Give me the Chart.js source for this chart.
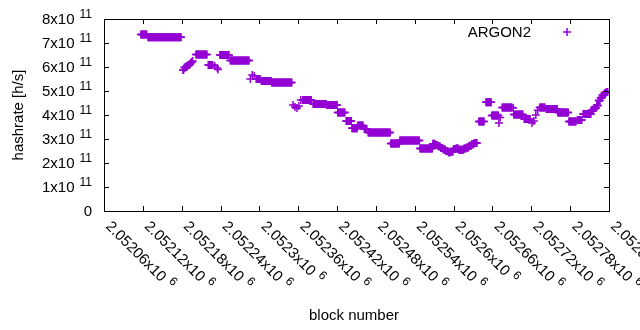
<!DOCTYPE html>
<html>
<head>
<meta charset="utf-8">
<script src="https://cdn.jsdelivr.net/npm/chart.js@4.4.1/dist/chart.umd.min.js"></script>
<style>
  html, body { margin: 0; padding: 0; background: #fff; }
  #wrap { width: 640px; height: 330px; }
</style>
</head>
<body>
<div id="wrap"><canvas id="hashChart"></canvas></div>
<script>
// runs of blocks that share the same hashrate (value in units of 1e11 h/s)
const runStart = [2052117, 2052128, 2052182, 2052184, 2052187, 2052190, 2052193, 2052194, 2052195, 2052197,
  2052202, 2052221, 2052231, 2052235, 2052236, 2052239, 2052255, 2052286, 2052289, 2052292,
  2052295, 2052303, 2052319, 2052352, 2052355, 2052358, 2052361, 2052364, 2052367, 2052383,
  2052404, 2052421, 2052434, 2052443, 2052452, 2052462, 2052468, 2052503, 2052517, 2052548,
  2052568, 2052572, 2052576, 2052580, 2052584, 2052588, 2052592, 2052596, 2052600, 2052604,
  2052608, 2052612, 2052616, 2052620, 2052624, 2052628, 2052632,
  2052639, 2052650, 2052659, 2052670, 2052672,
  2052675, 2052692, 2052693, 2052709, 2052721, 2052724, 2052727, 2052730, 2052733, 2052743,
  2052761, 2052778, 2052791, 2052800, 2052813, 2052817, 2052821, 2052824, 2052827, 2052830,
  2052833, 2052836];
const runEnd = [2052126, 2052179, 2052183, 2052186, 2052189, 2052192, 2052193, 2052194, 2052196, 2052197,
  2052219, 2052228, 2052231, 2052235, 2052236, 2052253, 2052284, 2052286, 2052289, 2052292,
  2052301, 2052318, 2052350, 2052352, 2052355, 2052358, 2052361, 2052364, 2052380, 2052403,
  2052420, 2052432, 2052442, 2052451, 2052460, 2052466, 2052502, 2052516, 2052547, 2052567,
  2052571, 2052575, 2052579, 2052583, 2052587, 2052591, 2052595, 2052599, 2052603, 2052607,
  2052611, 2052615, 2052619, 2052623, 2052627, 2052631, 2052636,
  2052647, 2052658, 2052669, 2052670, 2052672,
  2052690, 2052692, 2052707, 2052718, 2052721, 2052724, 2052727, 2052730, 2052741, 2052760,
  2052777, 2052789, 2052798, 2052812, 2052816, 2052820, 2052823, 2052826, 2052829, 2052832,
  2052835, 2052838];
const runHash = [7.35, 7.24, 5.87, 5.98, 6.03, 6.08, 6.12, 6.17, 6.21, 6.25,
  6.52, 6.08, 6.04, 5.96, 5.90, 6.50, 6.27, 5.50, 5.67, 5.62,
  5.50, 5.42, 5.35, 4.42, 4.33, 4.29, 4.37, 4.62, 4.63, 4.46,
  4.42, 4.10, 3.75, 3.45, 3.56, 3.42, 3.27, 2.81, 2.94, 2.60,
  2.80, 2.75, 2.70, 2.63, 2.56, 2.50, 2.45, 2.48, 2.58, 2.60,
  2.55, 2.55, 2.60, 2.65, 2.72, 2.78, 2.83,
  3.73, 4.53, 3.98, 3.67, 3.90,
  4.31, 4.29, 4.02, 3.83, 3.67, 3.75, 4.00, 4.20, 4.31, 4.25,
  4.10, 3.73, 3.79, 4.04, 4.20, 4.29, 4.40, 4.60, 4.72, 4.83,
  4.92, 4.96];

const xTicks = [2052060, 2052120, 2052180, 2052240, 2052300, 2052360, 2052420,
  2052480, 2052540, 2052600, 2052660, 2052720, 2052780, 2052840];
const yTicks = [0, 1, 2, 3, 4, 5, 6, 7, 8];

const COLOR = '#9400d3';
const FONT = '"Liberation Sans", Arial, sans-serif';

const points = [];
runStart.forEach((s, i) => {
  for (let b = s; b <= runEnd[i]; b++) points.push({ x: b, y: runHash[i] * 1e11 });
});

// gnuplot-like frame, inward ticks and a*10^b labels
const gnuFrame = {
  id: 'gnuFrame',
  afterDraw(chart) {
    const ctx = chart.ctx;
    const a = chart.chartArea;
    const xs = chart.scales.x, ys = chart.scales.y;
    ctx.save();
    ctx.strokeStyle = '#000';
    ctx.lineWidth = 1;
    ctx.strokeRect(Math.round(a.left) + 0.5, Math.round(a.top) + 0.5,
      Math.round(a.right - a.left), Math.round(a.bottom - a.top));

    ctx.beginPath();
    xTicks.forEach(t => {
      const px = Math.round(xs.getPixelForValue(t)) + 0.5;
      ctx.moveTo(px, a.bottom); ctx.lineTo(px, a.bottom - 5);
      ctx.moveTo(px, a.top); ctx.lineTo(px, a.top + 5);
    });
    yTicks.forEach(t => {
      const py = Math.round(ys.getPixelForValue(t * 1e11)) + 0.5;
      ctx.moveTo(a.left, py); ctx.lineTo(a.left + 5, py);
      ctx.moveTo(a.right, py); ctx.lineTo(a.right - 5, py);
    });
    ctx.stroke();

    ctx.fillStyle = '#000';
    ctx.textBaseline = 'alphabetic';
    // y labels
    yTicks.forEach(t => {
      const py = ys.getPixelForValue(t * 1e11);
      const right = 92;
      if (t === 0) {
        ctx.font = '15px ' + FONT;
        ctx.textAlign = 'right';
        ctx.fillText('0', right, py + 5);
        return;
      }
      ctx.textAlign = 'left';
      ctx.font = '12px ' + FONT;
      const supW = ctx.measureText('11').width;
      ctx.font = '15px ' + FONT;
      const main = t + 'x10';
      const mainW = ctx.measureText(main).width;
      const x0 = right - supW - 5 - mainW;
      ctx.fillText(main, x0, py + 5);
      ctx.font = '12px ' + FONT;
      ctx.fillText('11', x0 + mainW + 5, py - 1);
    });
    // x labels, rotated down-right
    xTicks.forEach(t => {
      const px = xs.getPixelForValue(t);
      const main = parseFloat((t / 1e6).toFixed(5)).toString() + 'x10';
      ctx.save();
      ctx.translate(px + 1, 227);
      ctx.rotate(Math.PI / 4);
      ctx.textAlign = 'left';
      ctx.font = '15px ' + FONT;
      ctx.fillText(main, 0, 0);
      const w = ctx.measureText(main).width;
      ctx.font = '12px ' + FONT;
      ctx.fillText('6', w + 5, -6);
      ctx.restore();
    });

    // axis titles
    ctx.font = '15px ' + FONT;
    ctx.textAlign = 'center';
    ctx.fillText('block number', 354, 320);
    ctx.save();
    ctx.translate(23, 115);
    ctx.rotate(-Math.PI / 2);
    ctx.fillText('hashrate [h/s]', 0, 0);
    ctx.restore();

    // key
    ctx.textAlign = 'right';
    ctx.fillText('ARGON2', 531, 37);
    ctx.strokeStyle = COLOR;
    ctx.lineWidth = 1.5;
    ctx.beginPath();
    ctx.moveTo(563, 32); ctx.lineTo(571, 32);
    ctx.moveTo(567, 28); ctx.lineTo(567, 36);
    ctx.stroke();
    ctx.restore();
  }
};

new Chart(document.getElementById('hashChart'), {
  type: 'scatter',
  data: {
    datasets: [{
      label: 'ARGON2',
      data: points,
      pointStyle: 'cross',
      pointRadius: 4,
      pointHoverRadius: 4,
      borderWidth: 1.5,
      borderColor: COLOR,
      backgroundColor: COLOR
    }]
  },
  options: {
    responsive: true,
    maintainAspectRatio: false,
    animation: false,
    devicePixelRatio: 1,
    layout: { padding: { left: 104, right: 31, top: 19, bottom: 119 } },
    plugins: { legend: { display: false }, tooltip: { enabled: false } },
    scales: {
      x: { type: 'linear', display: false, min: 2052060, max: 2052840 },
      y: { type: 'linear', display: false, min: 0, max: 8e11 }
    }
  },
  plugins: [gnuFrame]
});
</script>
</body>
</html>
